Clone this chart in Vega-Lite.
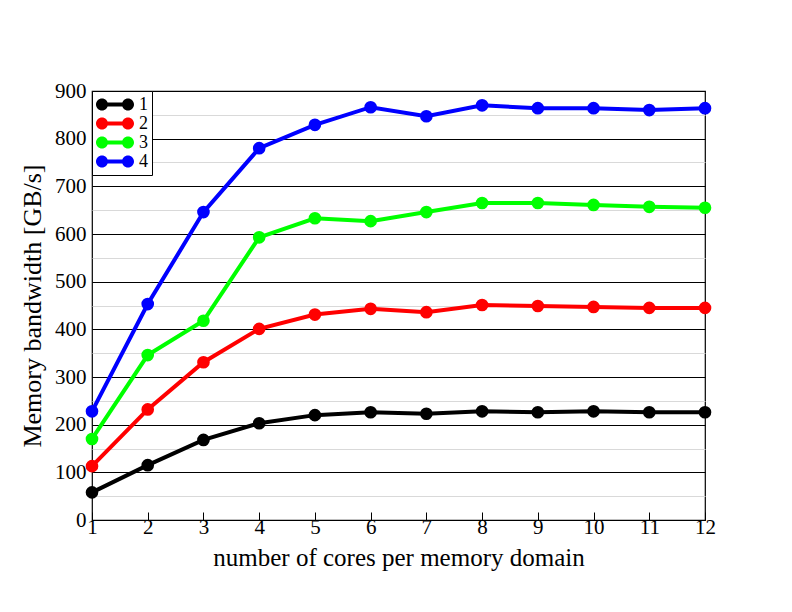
{
  "$schema": "https://vega.github.io/schema/vega-lite/v6.json",
  "width": 613,
  "height": 429,
  "autosize": {"type": "none"},
  "padding": {"left": 92, "top": 91, "right": 87, "bottom": 92},
  "background": "white",
  "config": {
    "font": "Liberation Serif",
    "view": {"stroke": "black", "strokeWidth": 1.2}
  },
  "data": {
    "values": [
      {"cores": 1, "bw": 58, "s": "1"}, {"cores": 2, "bw": 115, "s": "1"}, {"cores": 3, "bw": 168, "s": "1"}, {"cores": 4, "bw": 203, "s": "1"}, {"cores": 5, "bw": 220, "s": "1"}, {"cores": 6, "bw": 226, "s": "1"}, {"cores": 7, "bw": 223, "s": "1"}, {"cores": 8, "bw": 228, "s": "1"}, {"cores": 9, "bw": 226, "s": "1"}, {"cores": 10, "bw": 228, "s": "1"}, {"cores": 11, "bw": 226, "s": "1"}, {"cores": 12, "bw": 226, "s": "1"},
      {"cores": 1, "bw": 113, "s": "2"}, {"cores": 2, "bw": 232, "s": "2"}, {"cores": 3, "bw": 331, "s": "2"}, {"cores": 4, "bw": 401, "s": "2"}, {"cores": 5, "bw": 431, "s": "2"}, {"cores": 6, "bw": 443, "s": "2"}, {"cores": 7, "bw": 436, "s": "2"}, {"cores": 8, "bw": 451, "s": "2"}, {"cores": 9, "bw": 449, "s": "2"}, {"cores": 10, "bw": 447, "s": "2"}, {"cores": 11, "bw": 445, "s": "2"}, {"cores": 12, "bw": 445, "s": "2"},
      {"cores": 1, "bw": 170, "s": "3"}, {"cores": 2, "bw": 346, "s": "3"}, {"cores": 3, "bw": 418, "s": "3"}, {"cores": 4, "bw": 593, "s": "3"}, {"cores": 5, "bw": 633, "s": "3"}, {"cores": 6, "bw": 627, "s": "3"}, {"cores": 7, "bw": 646, "s": "3"}, {"cores": 8, "bw": 665, "s": "3"}, {"cores": 9, "bw": 665, "s": "3"}, {"cores": 10, "bw": 661, "s": "3"}, {"cores": 11, "bw": 657, "s": "3"}, {"cores": 12, "bw": 655, "s": "3"},
      {"cores": 1, "bw": 228, "s": "4"}, {"cores": 2, "bw": 453, "s": "4"}, {"cores": 3, "bw": 646, "s": "4"}, {"cores": 4, "bw": 780, "s": "4"}, {"cores": 5, "bw": 829, "s": "4"}, {"cores": 6, "bw": 866, "s": "4"}, {"cores": 7, "bw": 847, "s": "4"}, {"cores": 8, "bw": 870, "s": "4"}, {"cores": 9, "bw": 864, "s": "4"}, {"cores": 10, "bw": 864, "s": "4"}, {"cores": 11, "bw": 860, "s": "4"}, {"cores": 12, "bw": 864, "s": "4"}
    ]
  },
  "encoding": {
    "x": {
      "field": "cores", "type": "quantitative",
      "scale": {"domain": [1, 12], "nice": false, "zero": false},
      "axis": {
        "title": "number of cores per memory domain",
        "titleFont": "Liberation Serif", "titleFontSize": 25, "titleFontWeight": "normal", "titleColor": "black", "titlePadding": 8,
        "values": [1,2,3,4,5,6,7,8,9,10,11,12],
        "labelFont": "Liberation Serif", "labelFontSize": 21, "labelColor": "black", "labelPadding": 4,
        "labelFlush": false, "labelOverlap": false,
        "grid": false, "domain": false,
        "tickSize": -8, "tickColor": "black", "tickWidth": 1
      }
    },
    "y": {
      "field": "bw", "type": "quantitative",
      "scale": {"domain": [0, 900], "nice": false},
      "axis": {
        "title": "Memory bandwidth [GB/s]",
        "titleFont": "Liberation Serif", "titleFontSize": 26, "titleFontWeight": "normal", "titleColor": "black", "titlePadding": 9,
        "values": [0,50,100,150,200,250,300,350,400,450,500,550,600,650,700,750,800,850,900],
        "labelExpr": "datum.value % 100 === 0 ? datum.label : ''",
        "labelFont": "Liberation Serif", "labelFontSize": 21, "labelColor": "black", "labelPadding": 6,
        "labelFlush": false, "labelOverlap": false,
        "ticks": false, "domain": false,
        "grid": true, "gridWidth": 1,
        "gridColor": {"condition": {"test": "datum.value % 100 === 0", "value": "black"}, "value": "#d9d9d9"}
      }
    },
    "color": {
      "field": "s", "type": "nominal",
      "scale": {"domain": ["1","2","3","4"], "range": ["#000000", "#ff0000", "#00ff00", "#0000ff"]},
      "legend": {
        "title": null, "orient": "none", "legendX": 0, "legendY": 0,
        "symbolType": "M-1,0 A0.316,0.316 0 1,1 -0.368,0 A0.316,0.316 0 1,1 -1,0 Z M0.368,0 A0.316,0.316 0 1,1 1,0 A0.316,0.316 0 1,1 0.368,0 Z M-0.7,-0.1 L0.7,-0.1 L0.7,0.1 L-0.7,0.1 Z",
        "symbolSize": 1444, "symbolStrokeWidth": 0,
        "clipHeight": 19, "rowPadding": 0,
        "labelFont": "Liberation Serif", "labelFontSize": 18, "labelColor": "black", "labelOffset": 5,
        "strokeColor": "black", "fillColor": "white", "padding": 4
      }
    }
  },
  "layer": [
    {"mark": {"type": "line", "strokeWidth": 4}},
    {"mark": {"type": "point", "filled": true, "opacity": 1, "size": 160}}
  ]
}
